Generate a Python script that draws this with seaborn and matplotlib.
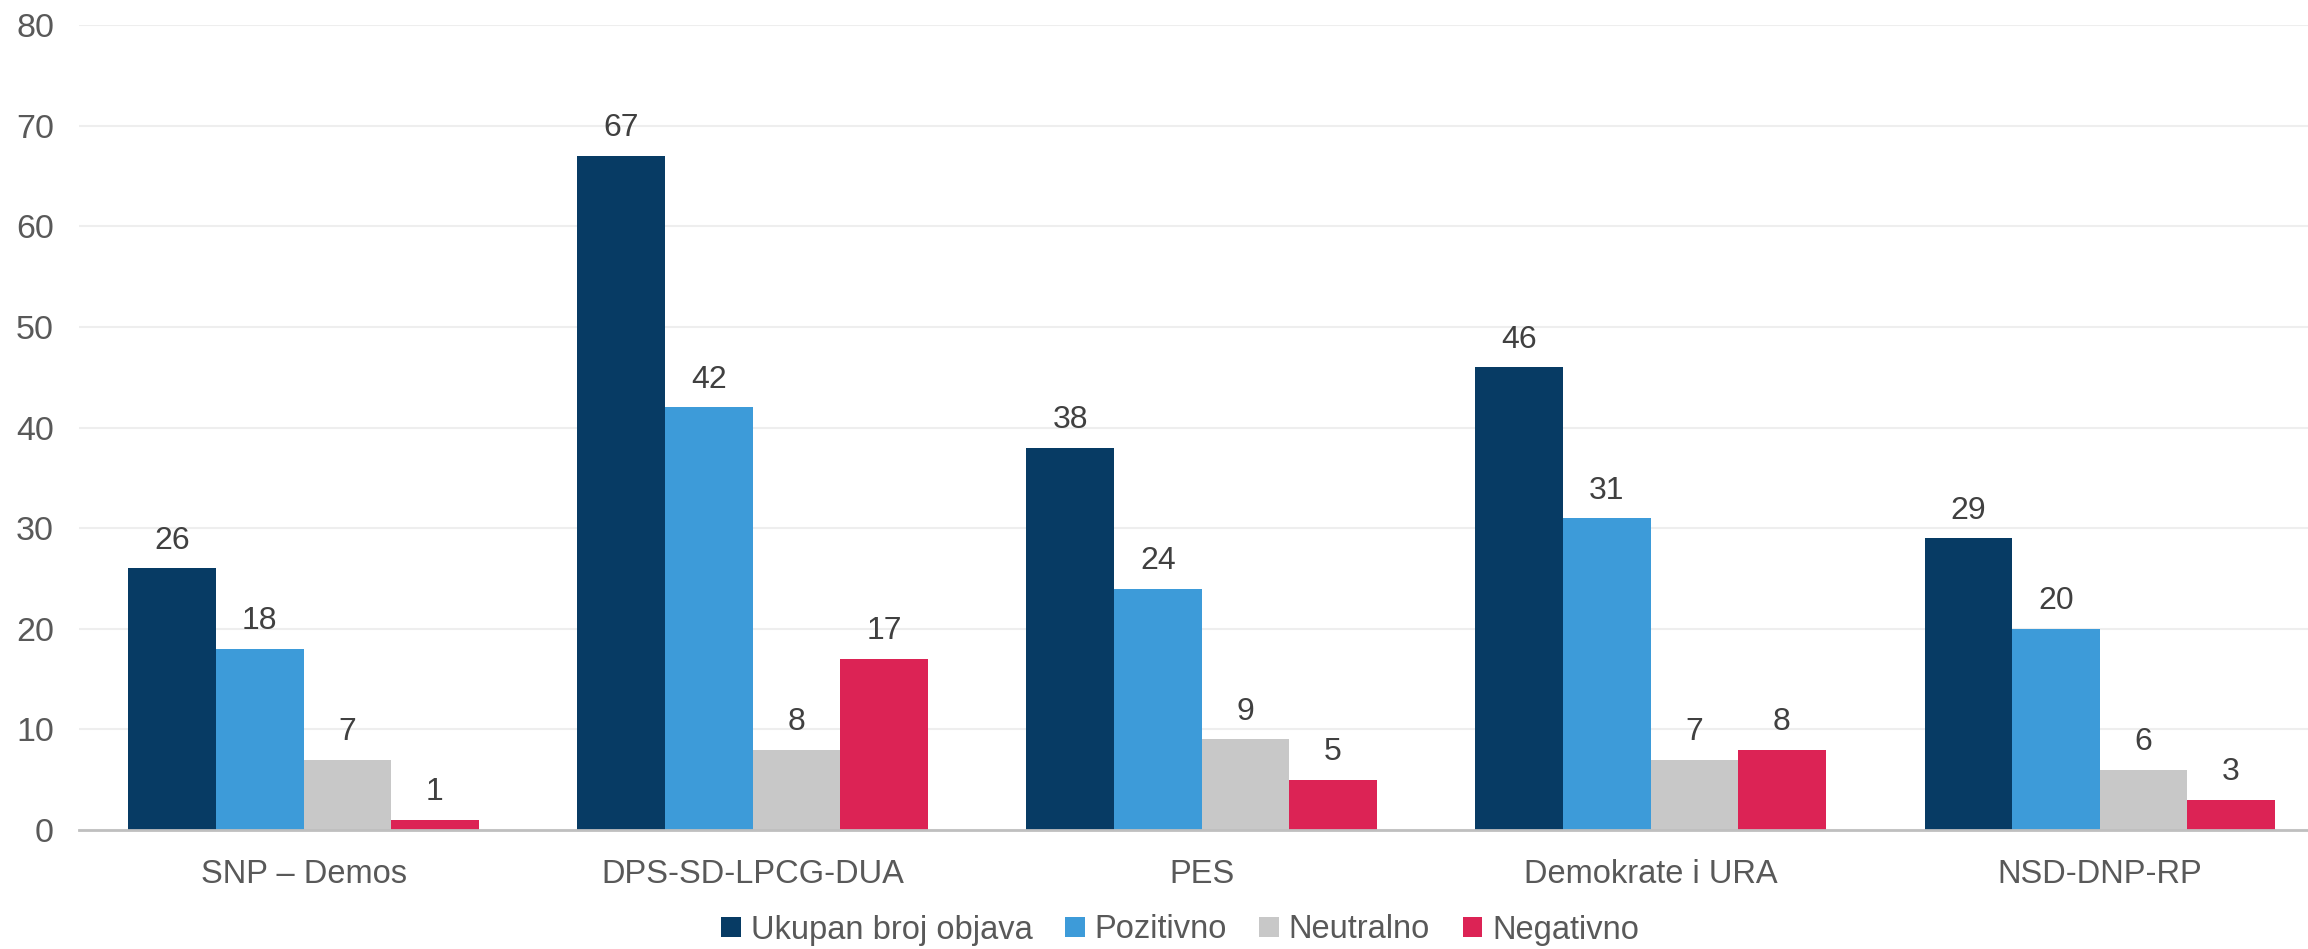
import pandas as pd
import matplotlib.pyplot as plt
import seaborn as sns

# chart data
categories = ['SNP – Demos', 'DPS-SD-LPCG-DUA', 'PES', 'Demokrate i URA', 'NSD-DNP-RP']
series = ['Ukupan broj objava', 'Pozitivno', 'Neutralno', 'Negativno']
ukupno = [26, 67, 38, 46, 29]
pozitivno = [18, 42, 24, 31, 20]
neutralno = [7, 8, 9, 7, 6]
negativno = [1, 17, 5, 8, 3]
colors = ['#073B64', '#3D9BD9', '#C8C8C8', '#DC2355']

# long format for seaborn
rows = []
for name, vals in zip(series, [ukupno, pozitivno, neutralno, negativno]):
    for cat, v in zip(categories, vals):
        rows.append({'kategorija': cat, 'serija': name, 'broj': v})
df = pd.DataFrame(rows)

sns.set_style('white')
plt.rcParams['font.family'] = ['Liberation Sans', 'DejaVu Sans']

fig = plt.figure(figsize=(23.08, 9.49), dpi=100)
ax = fig.add_axes([79 / 2308, 1 - 830 / 949, 1 - 79 / 2308, (830 - 25) / 949])

sns.barplot(data=df, x='kategorija', y='broj', hue='serija', order=categories,
            hue_order=series, palette=colors, width=0.78, gap=0,
            saturation=1, linewidth=0, ax=ax, legend=True)

for cont in ax.containers:
    ax.bar_label(cont, padding=9, fontsize=23, color='#404040')

ax.set_ylim(0, 80)
ax.set_xlim(-0.5, 4.464)
ax.set_yticks(range(0, 81, 10))
ax.yaxis.grid(True, color='#EEEEEE', linewidth=1.5)
ax.set_axisbelow(True)
ax.set_xlabel('')
ax.set_ylabel('')
for s in ['top', 'right', 'left']:
    ax.spines[s].set_visible(False)
ax.spines['bottom'].set_color('#BFBFBF')
ax.spines['bottom'].set_linewidth(2)
ax.tick_params(axis='y', labelsize=24.5, labelcolor='#595959', length=0, pad=18)
ax.tick_params(axis='x', labelsize=23.5, labelcolor='#595959', length=0, pad=21)

handles, labels = ax.get_legend_handles_labels()
ax.legend_.remove()
fig.legend(handles, labels, loc='center', bbox_to_anchor=(1180 / 2308, 1 - 930 / 949),
           ncol=4, frameon=False, fontsize=23.5, labelcolor='#595959',
           handlelength=0.6, handleheight=0.6, handletextpad=0.3, columnspacing=1.0)

fig.savefig('out.png', dpi=100)
